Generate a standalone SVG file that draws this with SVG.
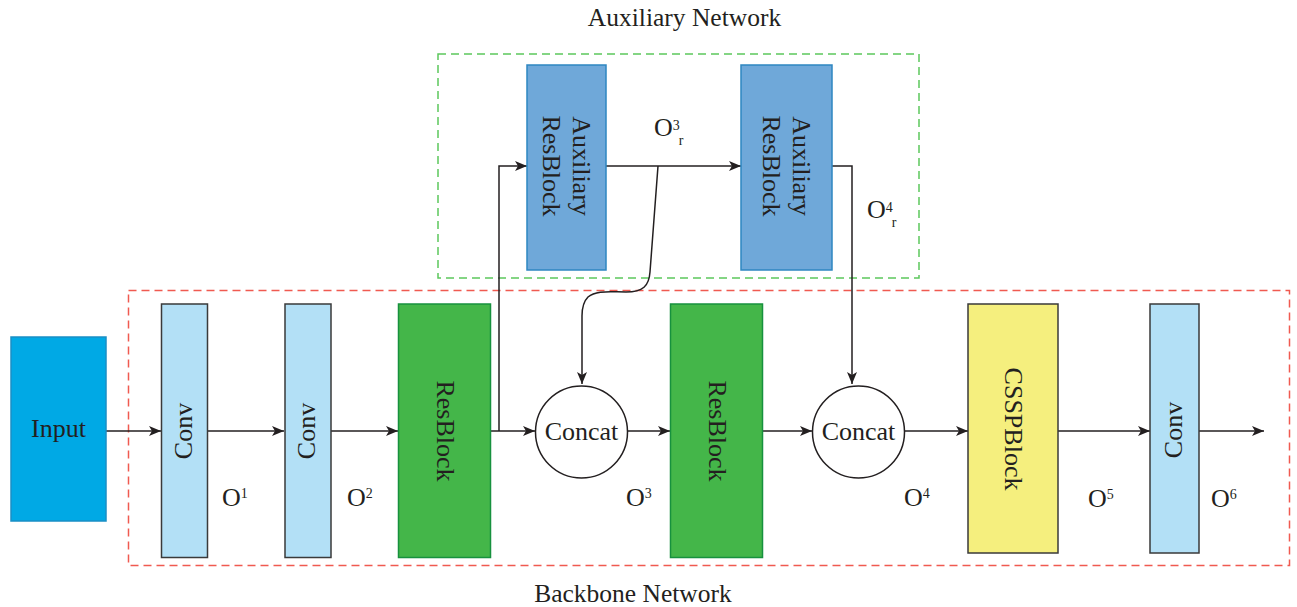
<svg xmlns="http://www.w3.org/2000/svg" width="1297" height="607" viewBox="0 0 1297 607">
<style>
text{font-family:"Liberation Serif","Times New Roman",serif;fill:#231f20;}
.lbl{font-size:25.5px;}
.o{font-size:26px;}
.t{font-size:26px;text-anchor:middle;dominant-baseline:central;}
.sup{font-size:14px;}
.conv{fill:#b3e0f6;stroke:#3a3a3a;stroke-width:1.5;}
.res{fill:#44b649;stroke:#17913e;stroke-width:1.5;}
.aux{fill:#6fa8d9;stroke:#2e86c1;stroke-width:1.5;}
.cat{fill:#ffffff;stroke:#231f20;stroke-width:1.5;}
.wire{fill:none;stroke:#231f20;stroke-width:1.5;}
</style>
<defs>
<marker id="ah" viewBox="0 0 12 10" refX="12" refY="5" markerWidth="12" markerHeight="10" markerUnits="userSpaceOnUse" orient="auto">
<path d="M0,0 L12,5 L0,10 L3,5 Z" fill="#231f20"/>
</marker>
</defs>
<rect id="aux-frame" x="438" y="54" width="481" height="224" fill="none" stroke="#5cc85c" stroke-width="1.5" stroke-dasharray="8,5"/>
<rect id="backbone-frame" x="128.5" y="290.5" width="1161" height="275" fill="none" stroke="#f05a50" stroke-width="1.5" stroke-dasharray="8,5"/>
<text class="lbl" x="684.5" y="26" text-anchor="middle">Auxiliary Network</text>
<text class="lbl" x="633" y="602" text-anchor="middle">Backbone Network</text>
<g id="connectors">
<line class="wire" x1="106" y1="431" x2="161" y2="431" marker-end="url(#ah)"/>
<line class="wire" x1="208" y1="431" x2="284" y2="431" marker-end="url(#ah)"/>
<line class="wire" x1="331" y1="431" x2="398" y2="431" marker-end="url(#ah)"/>
<line class="wire" x1="490" y1="431" x2="535" y2="431" marker-end="url(#ah)"/>
<line class="wire" x1="627" y1="431" x2="670" y2="431" marker-end="url(#ah)"/>
<line class="wire" x1="763" y1="431" x2="812" y2="431" marker-end="url(#ah)"/>
<line class="wire" x1="904" y1="431" x2="968" y2="431" marker-end="url(#ah)"/>
<line class="wire" x1="1058" y1="431" x2="1150" y2="431" marker-end="url(#ah)"/>
<line class="wire" x1="1199" y1="431" x2="1264" y2="431" marker-end="url(#ah)"/>
<polyline class="wire" points="499,431 499,166 527,166" marker-end="url(#ah)"/>
<line class="wire" x1="606" y1="166" x2="741" y2="166" marker-end="url(#ah)"/>
<polyline class="wire" points="832,166 852,166 852,384" marker-end="url(#ah)"/>
<path class="wire" d="M658,166 L650,272 C649,286 643,292 626,292 C610,292 596,290 588,297 C583,302 582,308 582,316 L582,384" marker-end="url(#ah)"/>
</g>
<g id="input"><rect x="11" y="337" width="95" height="184" fill="#00a9e5" stroke="#1a8fc5" stroke-width="1.5"/><text class="t" x="58.5" y="428">Input</text></g>
<g id="conv1"><rect class="conv" x="161.5" y="304" width="46" height="253.5"/><text class="t" transform="translate(183,431) rotate(-90)">Conv</text></g>
<g id="conv2"><rect class="conv" x="285" y="304" width="46" height="253.5"/><text class="t" transform="translate(306.5,431) rotate(-90)">Conv</text></g>
<g id="resblock1"><rect class="res" x="398.5" y="304" width="92" height="253.5"/><text class="t" transform="translate(445.5,431) rotate(90)">ResBlock</text></g>
<g id="concat1"><circle class="cat" cx="581.5" cy="432" r="46"/><text class="t" x="581.5" y="431">Concat</text></g>
<g id="resblock2"><rect class="res" x="670.5" y="304" width="92" height="253.5"/><text class="t" transform="translate(717,431) rotate(90)">ResBlock</text></g>
<g id="concat2"><circle class="cat" cx="858.5" cy="432" r="46"/><text class="t" x="858.5" y="431">Concat</text></g>
<g id="csspblock"><rect x="968" y="304" width="90" height="249" fill="#f5ef7e" stroke="#3a3a3a" stroke-width="1.5"/><text class="t" transform="translate(1013.5,429) rotate(90)">CSSPBlock</text></g>
<g id="conv3"><rect class="conv" x="1150" y="304" width="49" height="249"/><text class="t" transform="translate(1173,430) rotate(-90)">Conv</text></g>
<g id="auxblock1"><rect class="aux" x="527" y="65" width="79" height="205"/><text class="t" transform="translate(566.5,166) rotate(90)"><tspan x="0" y="-15">Auxiliary</tspan><tspan x="0" y="15">ResBlock</tspan></text></g>
<g id="auxblock2"><rect class="aux" x="741" y="65" width="91" height="205"/><text class="t" transform="translate(786.5,166) rotate(90)"><tspan x="0" y="-15">Auxiliary</tspan><tspan x="0" y="15">ResBlock</tspan></text></g>
<g id="labels">
<text class="o" x="222" y="506">O<tspan class="sup" dy="-8">1</tspan></text>
<text class="o" x="347" y="506">O<tspan class="sup" dy="-8">2</tspan></text>
<text class="o" x="626" y="506">O<tspan class="sup" dy="-8">3</tspan></text>
<text class="o" x="904" y="506">O<tspan class="sup" dy="-8">4</tspan></text>
<text class="o" x="1088" y="507">O<tspan class="sup" dy="-8">5</tspan></text>
<text class="o" x="1211" y="507">O<tspan class="sup" dy="-8">6</tspan></text>
<text class="o" x="654" y="136">O<tspan class="sup" dy="-6">3</tspan><tspan class="sup" dx="-1" dy="15">r</tspan></text>
<text class="o" x="867" y="218">O<tspan class="sup" dy="-6">4</tspan><tspan class="sup" dx="-1" dy="15">r</tspan></text>
</g>
</svg>
